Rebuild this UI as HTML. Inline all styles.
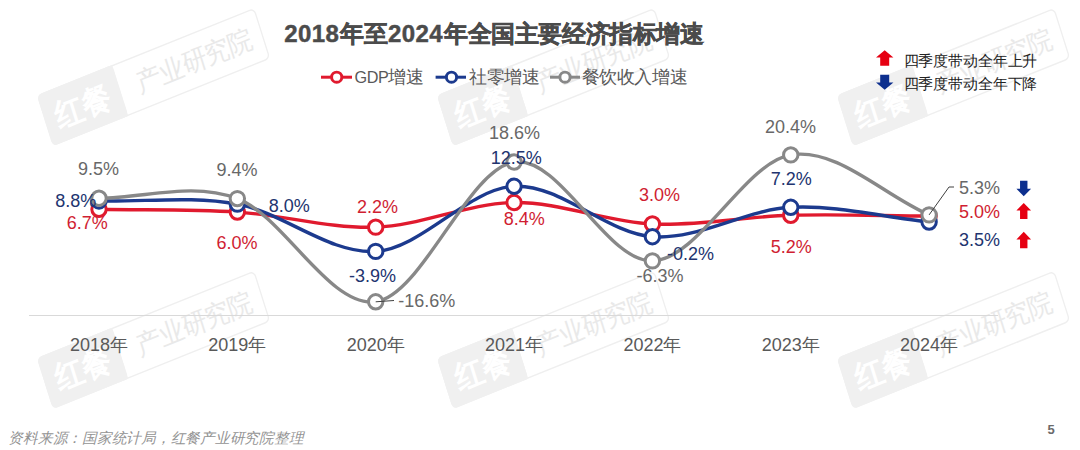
<!DOCTYPE html>
<html><head><meta charset="utf-8"><style>
html,body{margin:0;padding:0;background:#fff;}
body{width:1080px;height:450px;overflow:hidden;position:relative;font-family:"Liberation Sans",sans-serif;}
svg{position:absolute;left:0;top:0;}
svg text{font-family:"Liberation Sans",sans-serif;}
</style></head><body>
<svg width="1080" height="450" viewBox="0 0 1080 450">
<g transform="translate(36.8,95.2) scale(1,1.13) rotate(-19.6)">
<rect x="0.7" y="0.7" width="229.6" height="46.6" rx="4.5" fill="none" stroke="#efefef" stroke-width="1.3"/>
<rect x="0" y="0" width="80" height="48" rx="4.5" fill="#f0f0f0"/>
<rect x="74" y="0" width="6" height="48" fill="#f0f0f0"/>
<text x="40.0" y="34.5" text-anchor="middle" font-size="29" font-weight="bold" fill="#ffffff" letter-spacing="-0.5">红餐</text>
<text x="158.5" y="32.5" text-anchor="middle" font-size="24.5" fill="#e9e9e9">产业研究院</text>
</g>
<g transform="translate(436.8,95.2) scale(1,1.13) rotate(-19.6)">
<rect x="0.7" y="0.7" width="229.6" height="46.6" rx="4.5" fill="none" stroke="#efefef" stroke-width="1.3"/>
<rect x="0" y="0" width="80" height="48" rx="4.5" fill="#f0f0f0"/>
<rect x="74" y="0" width="6" height="48" fill="#f0f0f0"/>
<text x="40.0" y="34.5" text-anchor="middle" font-size="29" font-weight="bold" fill="#ffffff" letter-spacing="-0.5">红餐</text>
<text x="158.5" y="32.5" text-anchor="middle" font-size="24.5" fill="#e9e9e9">产业研究院</text>
</g>
<g transform="translate(836.8,95.2) scale(1,1.13) rotate(-19.6)">
<rect x="0.7" y="0.7" width="229.6" height="46.6" rx="4.5" fill="none" stroke="#efefef" stroke-width="1.3"/>
<rect x="0" y="0" width="80" height="48" rx="4.5" fill="#f0f0f0"/>
<rect x="74" y="0" width="6" height="48" fill="#f0f0f0"/>
<text x="40.0" y="34.5" text-anchor="middle" font-size="29" font-weight="bold" fill="#ffffff" letter-spacing="-0.5">红餐</text>
<text x="158.5" y="32.5" text-anchor="middle" font-size="24.5" fill="#e9e9e9">产业研究院</text>
</g>
<g transform="translate(36.8,358) scale(1,1.13) rotate(-19.6)">
<rect x="0.7" y="0.7" width="229.6" height="46.6" rx="4.5" fill="none" stroke="#efefef" stroke-width="1.3"/>
<rect x="0" y="0" width="80" height="48" rx="4.5" fill="#f0f0f0"/>
<rect x="74" y="0" width="6" height="48" fill="#f0f0f0"/>
<text x="40.0" y="34.5" text-anchor="middle" font-size="29" font-weight="bold" fill="#ffffff" letter-spacing="-0.5">红餐</text>
<text x="158.5" y="32.5" text-anchor="middle" font-size="24.5" fill="#e9e9e9">产业研究院</text>
</g>
<g transform="translate(436.8,358) scale(1,1.13) rotate(-19.6)">
<rect x="0.7" y="0.7" width="229.6" height="46.6" rx="4.5" fill="none" stroke="#efefef" stroke-width="1.3"/>
<rect x="0" y="0" width="80" height="48" rx="4.5" fill="#f0f0f0"/>
<rect x="74" y="0" width="6" height="48" fill="#f0f0f0"/>
<text x="40.0" y="34.5" text-anchor="middle" font-size="29" font-weight="bold" fill="#ffffff" letter-spacing="-0.5">红餐</text>
<text x="158.5" y="32.5" text-anchor="middle" font-size="24.5" fill="#e9e9e9">产业研究院</text>
</g>
<g transform="translate(836.8,358) scale(1,1.13) rotate(-19.6)">
<rect x="0.7" y="0.7" width="229.6" height="46.6" rx="4.5" fill="none" stroke="#efefef" stroke-width="1.3"/>
<rect x="0" y="0" width="80" height="48" rx="4.5" fill="#f0f0f0"/>
<rect x="74" y="0" width="6" height="48" fill="#f0f0f0"/>
<text x="40.0" y="34.5" text-anchor="middle" font-size="29" font-weight="bold" fill="#ffffff" letter-spacing="-0.5">红餐</text>
<text x="158.5" y="32.5" text-anchor="middle" font-size="24.5" fill="#e9e9e9">产业研究院</text>
</g>
<line x1="29" y1="315.5" x2="998" y2="315.5" stroke="#d9d9d9" stroke-width="1"/>
<path d="M99.00,209.30 C145.12,210.23 191.23,209.10 237.35,212.08 C283.47,215.06 329.58,228.75 375.70,227.17 C421.82,225.58 467.93,203.08 514.05,202.55 C560.17,202.02 606.28,221.87 652.40,223.99 C698.52,226.11 744.63,216.58 790.75,215.26 C836.87,213.93 882.98,215.79 929.10,216.05" fill="none" stroke="#e01a2e" stroke-width="3.4" stroke-linecap="round"/>
<circle cx="99.00" cy="209.30" r="7.2" fill="#fff" stroke="#e01a2e" stroke-width="3"/>
<circle cx="237.35" cy="212.08" r="7.2" fill="#fff" stroke="#e01a2e" stroke-width="3"/>
<circle cx="375.70" cy="227.17" r="7.2" fill="#fff" stroke="#e01a2e" stroke-width="3"/>
<circle cx="514.05" cy="202.55" r="7.2" fill="#fff" stroke="#e01a2e" stroke-width="3"/>
<circle cx="652.40" cy="223.99" r="7.2" fill="#fff" stroke="#e01a2e" stroke-width="3"/>
<circle cx="790.75" cy="215.26" r="7.2" fill="#fff" stroke="#e01a2e" stroke-width="3"/>
<circle cx="929.10" cy="216.05" r="7.2" fill="#fff" stroke="#e01a2e" stroke-width="3"/>
<path d="M99.00,200.96 C145.12,202.02 191.23,195.74 237.35,204.14 C283.47,212.54 329.58,254.36 375.70,251.38 C421.82,248.41 467.93,188.72 514.05,186.28 C560.17,183.83 606.28,233.19 652.40,236.69 C698.52,240.20 744.63,209.76 790.75,207.32 C836.87,204.87 882.98,217.11 929.10,222.00" fill="none" stroke="#1c3a8e" stroke-width="3.4" stroke-linecap="round"/>
<circle cx="99.00" cy="200.96" r="7.2" fill="#fff" stroke="#1c3a8e" stroke-width="3"/>
<circle cx="237.35" cy="204.14" r="7.2" fill="#fff" stroke="#1c3a8e" stroke-width="3"/>
<circle cx="375.70" cy="251.38" r="7.2" fill="#fff" stroke="#1c3a8e" stroke-width="3"/>
<circle cx="514.05" cy="186.28" r="7.2" fill="#fff" stroke="#1c3a8e" stroke-width="3"/>
<circle cx="652.40" cy="236.69" r="7.2" fill="#fff" stroke="#1c3a8e" stroke-width="3"/>
<circle cx="790.75" cy="207.32" r="7.2" fill="#fff" stroke="#1c3a8e" stroke-width="3"/>
<circle cx="929.10" cy="222.00" r="7.2" fill="#fff" stroke="#1c3a8e" stroke-width="3"/>
<path d="M99.00,198.19 C145.12,198.32 191.23,181.31 237.35,198.58 C283.47,215.85 329.58,307.89 375.70,301.80 C421.82,295.71 467.93,168.87 514.05,162.06 C560.17,155.24 606.28,262.10 652.40,260.91 C698.52,259.72 744.63,162.59 790.75,154.91 C836.87,147.24 882.98,194.88 929.10,214.86" fill="none" stroke="#888888" stroke-width="3.4" stroke-linecap="round"/>
<circle cx="99.00" cy="198.19" r="7.2" fill="#fff" stroke="#888888" stroke-width="3"/>
<circle cx="237.35" cy="198.58" r="7.2" fill="#fff" stroke="#888888" stroke-width="3"/>
<circle cx="375.70" cy="301.80" r="7.2" fill="#fff" stroke="#888888" stroke-width="3"/>
<circle cx="514.05" cy="162.06" r="7.2" fill="#fff" stroke="#888888" stroke-width="3"/>
<circle cx="652.40" cy="260.91" r="7.2" fill="#fff" stroke="#888888" stroke-width="3"/>
<circle cx="790.75" cy="154.91" r="7.2" fill="#fff" stroke="#888888" stroke-width="3"/>
<circle cx="929.10" cy="214.86" r="7.2" fill="#fff" stroke="#888888" stroke-width="3"/>
<polyline points="375.7,301.8 394,300.5" fill="none" stroke="#404040" stroke-width="1"/>
<polyline points="929.1,214.9 949,187 954,187" fill="none" stroke="#404040" stroke-width="1"/>
<text x="78.0" y="175.3" font-size="18" fill="#686868">9.5%</text>
<text x="55.2" y="206.6" font-size="18" fill="#22346f">8.8%</text>
<text x="66.8" y="229.3" font-size="18" fill="#d01e32">6.7%</text>
<text x="216.6" y="175.7" font-size="18" fill="#686868">9.4%</text>
<text x="268.7" y="212.3" font-size="18" fill="#22346f">8.0%</text>
<text x="216.6" y="249.0" font-size="18" fill="#d01e32">6.0%</text>
<text x="356.9" y="212.5" font-size="18" fill="#d01e32">2.2%</text>
<text x="349.1" y="281.9" font-size="18" fill="#22346f">-3.9%</text>
<text x="398.2" y="307.1" font-size="18" fill="#686868">-16.6%</text>
<text x="489.0" y="139.2" font-size="18" fill="#686868">18.6%</text>
<text x="490.7" y="164.2" font-size="18" fill="#22346f">12.5%</text>
<text x="503.7" y="224.7" font-size="18" fill="#d01e32">8.4%</text>
<text x="638.9" y="200.9" font-size="18" fill="#d01e32">3.0%</text>
<text x="667.1" y="259.8" font-size="18" fill="#22346f">-0.2%</text>
<text x="636.5" y="281.7" font-size="18" fill="#686868">-6.3%</text>
<text x="765.0" y="132.7" font-size="18" fill="#686868">20.4%</text>
<text x="770.7" y="185.0" font-size="18" fill="#22346f">7.2%</text>
<text x="770.7" y="252.7" font-size="18" fill="#d01e32">5.2%</text>
<text x="959.0" y="194.4" font-size="18" fill="#686868">5.3%</text>
<text x="959.0" y="218.0" font-size="18" fill="#d01e32">5.0%</text>
<text x="959.0" y="246.0" font-size="18" fill="#22346f">3.5%</text>
<text x="99.0" y="350.8" font-size="18" fill="#595959" text-anchor="middle">2018年</text>
<text x="237.3" y="350.8" font-size="18" fill="#595959" text-anchor="middle">2019年</text>
<text x="375.7" y="350.8" font-size="18" fill="#595959" text-anchor="middle">2020年</text>
<text x="514.0" y="350.8" font-size="18" fill="#595959" text-anchor="middle">2021年</text>
<text x="652.4" y="350.8" font-size="18" fill="#595959" text-anchor="middle">2022年</text>
<text x="790.8" y="350.8" font-size="18" fill="#595959" text-anchor="middle">2023年</text>
<text x="929.1" y="350.8" font-size="18" fill="#595959" text-anchor="middle">2024年</text>
<text y="42.2" font-size="24" font-weight="bold" fill="#4b4b4b" stroke="#4b4b4b" stroke-width="0.45"><tspan x="284.2" letter-spacing="0.4">2018</tspan><tspan x="340" letter-spacing="-0.4">年至</tspan><tspan x="388" letter-spacing="0.4">2024</tspan><tspan x="444" letter-spacing="-0.4">年全国主要经济指标增速</tspan></text>
<line x1="321" y1="77.2" x2="352" y2="77.2" stroke="#e01a2e" stroke-width="3"/><circle cx="336.7" cy="77.2" r="5.1" fill="#fff" stroke="#e01a2e" stroke-width="2.9"/><text x="354.5" y="82.8" font-size="17.5" letter-spacing="-0.4" fill="#595959"><tspan font-size="16.2">GDP</tspan>增速</text>
<line x1="435.6" y1="77.2" x2="466" y2="77.2" stroke="#1c3a8e" stroke-width="3"/><circle cx="451.5" cy="77.2" r="5.1" fill="#fff" stroke="#1c3a8e" stroke-width="2.9"/><text x="469" y="82.8" font-size="17.5" letter-spacing="-0.4" fill="#595959">社零增速</text>
<line x1="550" y1="77.2" x2="580" y2="77.2" stroke="#888888" stroke-width="3"/><circle cx="565" cy="77.2" r="5.1" fill="#fff" stroke="#888888" stroke-width="2.9"/><text x="581.5" y="82.8" font-size="17.5" letter-spacing="-0.4" fill="#595959">餐饮收入增速</text>
<path d="M884.70,50.30 L893.40,57.50 L889.20,57.50 L889.20,65.70 L880.20,65.70 L880.20,57.50 L876.00,57.50 Z" fill="#e60012"/>
<path d="M880.20,74.80 L889.20,74.80 L889.20,82.60 L893.40,82.60 L884.70,89.80 L876.00,82.60 L880.20,82.60 Z" fill="#0d2f8e"/>
<text x="903.6" y="66" font-size="14.5" letter-spacing="-0.15" fill="#222">四季度带动全年上升</text>
<text x="903.6" y="89" font-size="14.5" letter-spacing="-0.15" fill="#222">四季度带动全年下降</text>
<path d="M1020.05,180.70 L1027.45,180.70 L1027.45,188.70 L1031.10,188.70 L1023.75,196.30 L1016.40,188.70 L1020.05,188.70 Z" fill="#0d2f8e"/>
<path d="M1023.75,203.00 L1031.10,210.60 L1027.45,210.60 L1027.45,219.00 L1020.05,219.00 L1020.05,210.60 L1016.40,210.60 Z" fill="#e60012"/>
<path d="M1023.75,231.80 L1031.10,239.40 L1027.45,239.40 L1027.45,248.20 L1020.05,248.20 L1020.05,239.40 L1016.40,239.40 Z" fill="#e60012"/>
<text x="8.4" y="443" font-size="14.6" letter-spacing="-0.25" font-style="italic" fill="#939393">资料来源：国家统计局，红餐产业研究院整理</text>
<text x="1047.5" y="434" font-size="13" font-weight="bold" fill="#6b6b6b">5</text>
</svg>
</body></html>
